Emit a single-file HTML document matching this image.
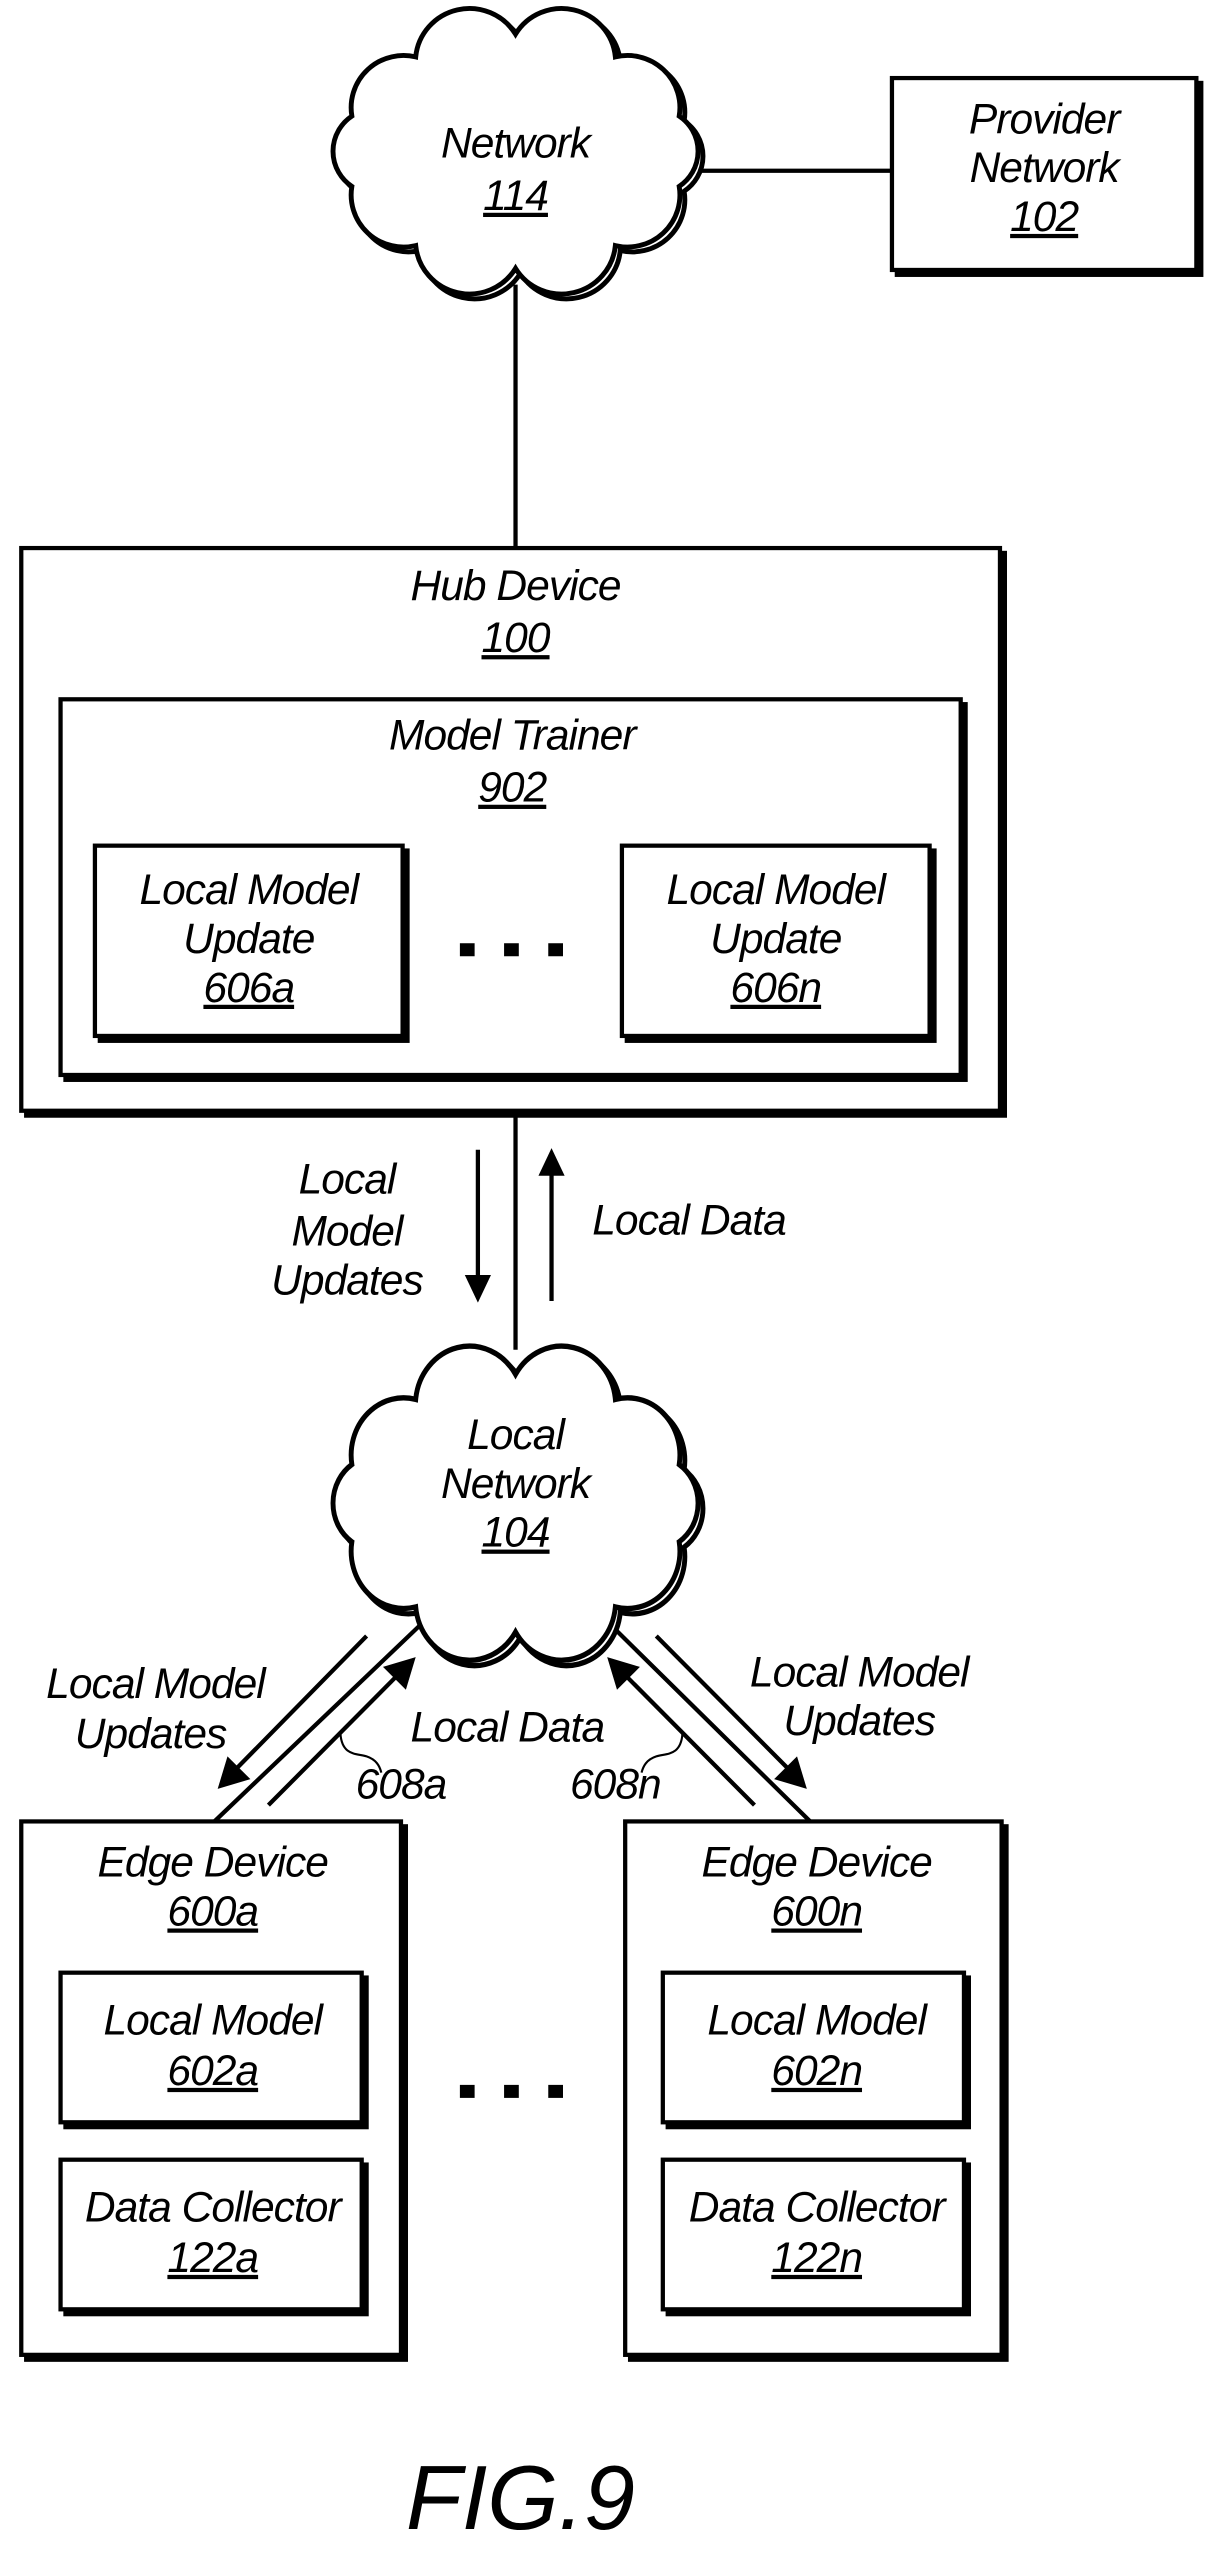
<!DOCTYPE html>
<html><head><meta charset="utf-8"><style>
html,body{margin:0;padding:0;background:#fff;}
svg{display:block}
text{font-family:"Liberation Sans Narrow","Liberation Sans",sans-serif;font-style:italic;font-size:26px;letter-spacing:-0.6px;fill:#000;text-anchor:middle}
.u{text-decoration:underline}
</style></head><body>
<svg width="1216" height="2550" viewBox="0 0 743 1568" preserveAspectRatio="none" xmlns="http://www.w3.org/2000/svg">
<defs>
<path id="cloud" d="M415,114.6 A32,32 0 0 1 376,151 A33,33 0 0 1 315,165 A33,33 0 0 1 254,151 A32,32 0 0 1 215,114.6 A26,26 0 0 1 215,71.4 A32,32 0 0 1 254,35 A33,33 0 0 1 315,21 A33,33 0 0 1 376,35 A32,32 0 0 1 415,71.4 A26,26 0 0 1 415,114.6 Z"/>
</defs>
<g stroke="#000" stroke-width="2.6" fill="none">
<line x1="428" y1="105" x2="545" y2="105"/>
<line x1="315" y1="175" x2="315" y2="338"/>
<line x1="315" y1="683" x2="315" y2="830"/>
<line x1="292" y1="707" x2="292" y2="785"/>
<line x1="337" y1="722" x2="337" y2="800"/>
<!-- left diagonals -->
<line x1="224" y1="1006" x2="144" y2="1088"/>
<line x1="131" y1="1120" x2="256" y2="1000"/>
<line x1="164" y1="1110" x2="243" y2="1030"/>
<!-- right diagonals -->
<line x1="461" y1="1110" x2="382" y2="1030"/>
<line x1="495" y1="1120" x2="374" y2="1000"/>
<line x1="401" y1="1006" x2="482" y2="1088"/>
<path d="M208,1066 C209,1080 218,1078 224,1080 C230,1082 232,1086 233,1090" stroke-width="1.3"/>
<path d="M417,1066 C416,1080 407,1078 401,1080 C395,1082 393,1086 392,1090" stroke-width="1.3"/>
</g>
<g fill="#000">
<polygon points="284,784 300,784 292,801"/>
<polygon points="329,723 345,723 337,706"/>
<polygon points="133,1100 139,1080 153,1094"/>
<polygon points="254,1019 234,1025 248,1039"/>
<polygon points="371,1019 377,1039 391,1025"/>
<polygon points="493,1100 487,1080 473,1094"/>
</g>
<g stroke="#000" stroke-width="3" fill="#fff">
<use href="#cloud" transform="translate(3,3)"/>
<use href="#cloud"/>
<g transform="translate(0,822) scale(1,1.1)"><use href="#cloud" transform="translate(3,3)"/><use href="#cloud"/></g>
</g>
<text x="315" y="97">Network</text><text x="315" y="129" class="u">114</text>
<text x="315" y="891">Local</text><text x="315" y="921">Network</text><text x="315" y="951" class="u">104</text>
<g stroke="#000" stroke-width="2.6">
<rect x="548" y="51" width="186" height="118" fill="#000"/><rect x="545" y="48" width="186" height="118" fill="#fff"/>
<rect x="16" y="340" width="598" height="346" fill="#000"/><rect x="13" y="337" width="598" height="346" fill="#fff"/>
<rect x="40" y="433" width="550" height="231" fill="#000"/><rect x="37" y="430" width="550" height="231" fill="#fff"/>
<rect x="61" y="523" width="188" height="117" fill="#000"/><rect x="58" y="520" width="188" height="117" fill="#fff"/>
<rect x="383" y="523" width="188" height="117" fill="#000"/><rect x="380" y="520" width="188" height="117" fill="#fff"/>
<rect x="16" y="1123" width="232" height="328" fill="#000"/><rect x="13" y="1120" width="232" height="328" fill="#fff"/>
<rect x="40" y="1216" width="184" height="92" fill="#000"/><rect x="37" y="1213" width="184" height="92" fill="#fff"/>
<rect x="40" y="1331" width="184" height="92" fill="#000"/><rect x="37" y="1328" width="184" height="92" fill="#fff"/>
<rect x="385" y="1123" width="230" height="328" fill="#000"/><rect x="382" y="1120" width="230" height="328" fill="#fff"/>
<rect x="408" y="1216" width="184" height="92" fill="#000"/><rect x="405" y="1213" width="184" height="92" fill="#fff"/>
<rect x="408" y="1331" width="184" height="92" fill="#000"/><rect x="405" y="1328" width="184" height="92" fill="#fff"/>
</g>
<text x="638" y="82">Provider</text><text x="638" y="112">Network</text><text x="638" y="142" class="u">102</text>
<text x="315" y="369">Hub Device</text><text x="315" y="401" class="u">100</text>
<text x="313" y="461">Model Trainer</text><text x="313" y="493" class="u">902</text>
<text x="152" y="556">Local Model</text><text x="152" y="586">Update</text><text x="152" y="616" class="u">606a</text>
<text x="474" y="556">Local Model</text><text x="474" y="586">Update</text><text x="474" y="616" class="u">606n</text>
<g fill="#000"><rect x="281" y="580" width="9" height="8"/><rect x="308" y="580" width="9" height="8"/><rect x="335" y="580" width="9" height="8"/>
<rect x="281" y="1282" width="9" height="8"/><rect x="308" y="1282" width="9" height="8"/><rect x="335" y="1282" width="9" height="8"/></g>
<text x="212" y="734">Local</text><text x="212" y="766">Model</text><text x="212" y="796">Updates</text>
<text x="421" y="759">Local Data</text>
<text x="95" y="1044">Local Model</text><text x="92" y="1075">Updates</text>
<text x="310" y="1071">Local Data</text>
<text x="245" y="1106">608a</text><text x="376" y="1106">608n</text>
<text x="525" y="1037">Local Model</text><text x="525" y="1067">Updates</text>
<text x="130" y="1154">Edge Device</text><text x="130" y="1184" class="u">600a</text>
<text x="130" y="1251">Local Model</text><text x="130" y="1282" class="u">602a</text>
<text x="130" y="1366">Data Collector</text><text x="130" y="1397" class="u">122a</text>
<text x="499" y="1154">Edge Device</text><text x="499" y="1184" class="u">600n</text>
<text x="499" y="1251">Local Model</text><text x="499" y="1282" class="u">602n</text>
<text x="499" y="1366">Data Collector</text><text x="499" y="1397" class="u">122n</text>
<text x="318" y="1555" style="font-family:'Liberation Sans',sans-serif;font-size:56px;letter-spacing:0">FIG.9</text>
</svg>
</body></html>
